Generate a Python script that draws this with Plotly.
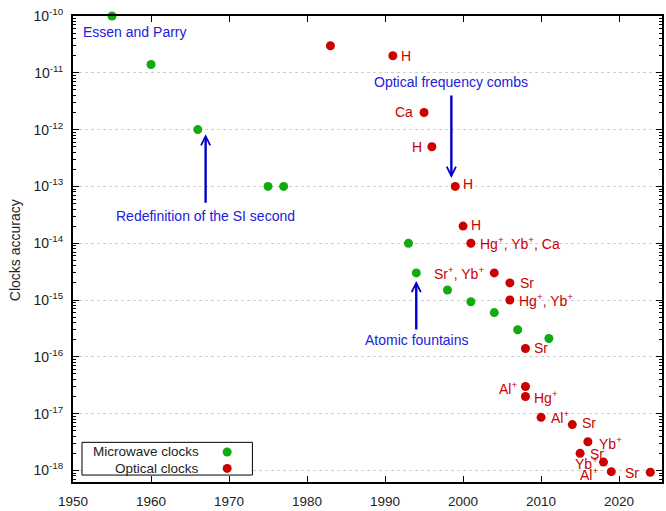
import math
import plotly.graph_objects as go

# ---------------- data ----------------
mw_years = [1955, 1960, 1966, 1975, 1977, 1993, 1994, 1998, 2001, 2004, 2007, 2011]
mw_acc = [1e-10, 1.4e-11, 1e-12, 1e-13, 1e-13, 1e-14, 3e-15, 1.5e-15, 9.3e-16, 6e-16, 3e-16, 2.1e-16]

opt_years = [1983, 1991, 1995, 1996, 1999, 2000, 2001, 2004, 2006, 2006,
             2008, 2008, 2008, 2010, 2014, 2015, 2016, 2018, 2019, 2024]
opt_acc = [3e-11, 2e-11, 2e-12, 5e-13, 1e-13, 2e-14, 1e-14, 3e-15, 2e-15, 1e-15,
           1.4e-16, 3e-17, 2e-17, 8.6e-18, 6.4e-18, 2e-18, 3.2e-18, 1.4e-18, 9.5e-19, 9.3e-19]
opt_labels = ["", "H", "Ca", "H", "H", "H",
              "Hg<sup>+</sup>, Yb<sup>+</sup>, Ca", "Sr<sup>+</sup>, Yb<sup>+</sup>", "Sr",
              "Hg<sup>+</sup>, Yb<sup>+</sup>", "Sr", "Al<sup>+</sup>", "Hg<sup>+</sup>",
              "Al<sup>+</sup>", "Sr", "Sr", "Yb<sup>+</sup>", "Yb<sup>+</sup>", "Al<sup>+</sup>", "Sr"]

x_ticks = [1950, 1960, 1970, 1980, 1990, 2000, 2010, 2020]
y_exps = [-10, -11, -12, -13, -14, -15, -16, -17, -18]

# label placement (style): side and pixel offsets
label_side = ["r", "r", "l", "l", "r", "r", "r", "l", "r", "r",
              "r", "l", "r", "r", "r", "r", "r", "l", "l", "l"]
label_dx = [0, 6, -9, -8, 6, 6, 7, -8, 8, 7,
            7, -6, 7, 8, 8, 8, 9, -3, -11, -9]
label_dy = [0, 0, -1, 0, -2, -1, 0, 0, 0, 0,
            -1, 1, 0, 0, -2, 1, 1, 1, 2, 1]

RED = "#cc0000"
GREEN = "#11aa11"
BLUE_TXT = "#2020dd"
BLUE = "#0000cc"
FONT = "Liberation Sans, Arial, sans-serif"
TXT = "#222222"

fig = go.Figure()
fig.add_trace(go.Scatter(x=mw_years, y=mw_acc, mode="markers", name="Microwave clocks",
                         marker=dict(color=GREEN, size=9), cliponaxis=False, showlegend=False))
fig.add_trace(go.Scatter(x=opt_years, y=opt_acc, mode="markers", name="Optical clocks",
                         marker=dict(color=RED, size=9), cliponaxis=False, showlegend=False))

annotations = []
for xv, yv, lab, side, dx, dy in zip(opt_years, opt_acc, opt_labels, label_side, label_dx, label_dy):
    if not lab:
        continue
    annotations.append(dict(x=xv, y=math.log10(yv), xref="x", yref="y", text=lab,
                            showarrow=False, xanchor="left" if side == "r" else "right",
                            yanchor="middle", xshift=dx, yshift=-dy,
                            font=dict(family=FONT, size=14, color=RED)))

# blue annotations (text)
blue_text = [
    ("Essen and Parry", 1951.0, -10.275, "left"),
    ("Optical frequency combs", 1998.45, -11.165, "center"),
    ("Redefinition of the SI second", 1966.95, -13.525, "center"),
    ("Atomic fountains", 1994.05, -15.70, "center"),
]
for t, xv, ly, anc in blue_text:
    annotations.append(dict(x=xv, y=ly, xref="x", yref="y", text=t, showarrow=False,
                            xanchor=anc, yanchor="middle",
                            font=dict(family=FONT, size=14, color=BLUE_TXT)))

# blue arrows: tip (year, log10 value), tail offset in pixels
arrows = [(1967.0, -12.08, 70), (1998.5, -12.85, -84), (1994.0, -14.665, 50)]
for xv, ly, ay in arrows:
    annotations.append(dict(x=xv, y=ly, xref="x", yref="y", text="", showarrow=True,
                            ax=0, ay=ay, axref="pixel", ayref="pixel",
                            arrowhead=5, arrowsize=0.75, arrowwidth=2.4, arrowcolor=BLUE,
                            standoff=0))

# y-axis title
annotations.append(dict(x=-0.098, y=0.498, xref="paper", yref="paper", text="Clocks accuracy",
                        textangle=-90, showarrow=False, xanchor="center", yanchor="middle",
                        font=dict(family=FONT, size=14, color=TXT)))

# manual legend
PW, PH = 591.0, 470.0
def px(xp):
    return (xp - 73) / PW
def py(yp):
    return (486 - yp) / PH

shapes = [dict(type="rect", xref="paper", yref="paper", x0=px(82), x1=px(253), y0=py(479), y1=py(446),
               line=dict(color="black", width=1), fillcolor="white", layer="above")]
for name, col, yy in [("Microwave clocks", GREEN, 455.7), ("Optical clocks", RED, 472.3)]:
    annotations.append(dict(x=px(201), y=py(yy), xref="paper", yref="paper", text=name,
                            showarrow=False, xanchor="right", yanchor="middle",
                            font=dict(family=FONT, size=13.5, color=TXT)))
    shapes.append(dict(type="circle", xref="paper", yref="paper", xsizemode="pixel", ysizemode="pixel",
                       xanchor=px(227.7), yanchor=py(yy), x0=-4.5, x1=4.5, y0=-4.5, y1=4.5,
                       fillcolor=col, line=dict(width=0), layer="above"))

minor_vals = [k * 10.0 ** e for e in range(-19, -9) for k in range(2, 10)]

fig.update_layout(
    width=666, height=511,
    margin=dict(l=73, r=2, t=16, b=25),
    plot_bgcolor="white", paper_bgcolor="white",
    font=dict(family=FONT, size=13.5, color=TXT),
    annotations=annotations, shapes=shapes,
    showlegend=False,
)
fig.update_xaxes(range=[1950, 2025.5], tickvals=x_ticks, ticks="inside", ticklen=6,
                 tickcolor="black", tickwidth=1, showline=True, linecolor="black", linewidth=2,
                 mirror="ticks", showgrid=False, zeroline=False, ticklabelstandoff=6,
                 tickfont=dict(family=FONT, size=13.5, color=TXT))
fig.update_yaxes(type="log", range=[-18.204, -10],
                 tickvals=[10.0 ** e for e in y_exps],
                 ticktext=["10<sup>%d</sup>" % e for e in y_exps],
                 ticks="inside", ticklen=6, tickcolor="black", tickwidth=1,
                 showline=True, linecolor="black", linewidth=2, mirror="allticks",
                 showgrid=True, gridcolor="#cfcfcf", griddash="dot", gridwidth=1,
                 zeroline=False, ticklabelstandoff=5, ticklabeloverflow="allow",
                 minor=dict(tickvals=minor_vals, ticks="inside", ticklen=3,
                            tickcolor="black", showgrid=False),
                 tickfont=dict(family=FONT, size=14, color=TXT))

# remove the default page-body margin so the 666x511 figure fills the window exactly
fig.write_html("out.html", config={"displayModeBar": False},
               post_script="document.body.style.margin='0';")
